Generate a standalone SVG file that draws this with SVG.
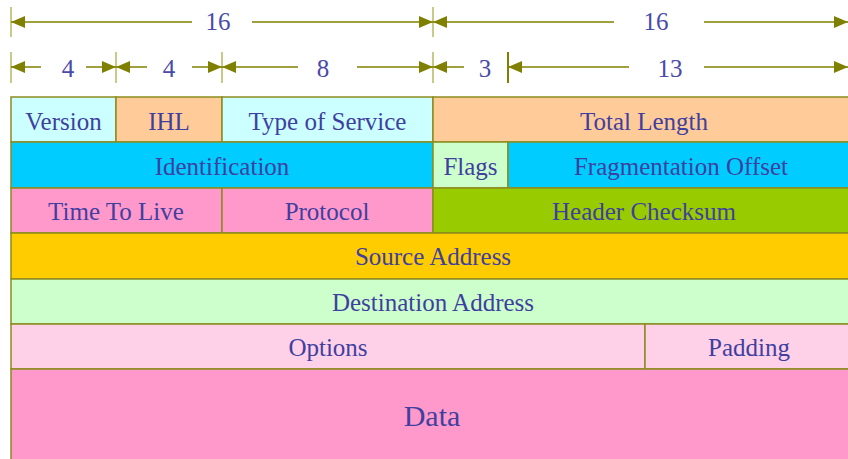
<svg xmlns="http://www.w3.org/2000/svg" width="848" height="459" viewBox="0 0 848 459">
<defs>
<style>
.c{stroke:#8c8c1e;stroke-width:1.5}
.t{font-family:"Liberation Serif",serif;font-size:25px;fill:#3f3f9f;text-anchor:middle}
.d{font-family:"Liberation Serif",serif;font-size:25px;fill:#4a4aa8;text-anchor:middle}
.ln{stroke:#808000;stroke-width:1.5;fill:none}
.tk{stroke:#b8b860;stroke-width:1.5}
</style>
<marker id="ae" viewBox="0 0 14 12" refX="14" refY="6" markerWidth="14" markerHeight="12" markerUnits="userSpaceOnUse" orient="auto">
<path d="M0,0 L14,6 L0,12 Z" fill="#808000"/>
</marker>
<marker id="as" viewBox="0 0 14 12" refX="0" refY="6" markerWidth="14" markerHeight="12" markerUnits="userSpaceOnUse" orient="auto">
<path d="M14,0 L0,6 L14,12 Z" fill="#808000"/>
</marker>
</defs>
<rect width="848" height="459" fill="#ffffff"/>

<g id="dimensions">
<line class="tk" x1="11" y1="7" x2="11" y2="37"/>
<line class="tk" x1="433" y1="7" x2="433" y2="37"/>
<line class="tk" x1="11" y1="52" x2="11" y2="83"/>
<line class="tk" x1="116" y1="52" x2="116" y2="83"/>
<line class="tk" x1="222" y1="52" x2="222" y2="83"/>
<line class="tk" x1="433" y1="52" x2="433" y2="83"/>
<line x1="508" y1="52" x2="508" y2="83" stroke="#808000" stroke-width="2"/>
</g>

<g id="connectors">
<line class="ln" x1="11" y1="22" x2="192" y2="22" marker-start="url(#as)"/>
<line class="ln" x1="252" y1="22" x2="433" y2="22" marker-end="url(#ae)"/>
<line class="ln" x1="433" y1="22" x2="614" y2="22" marker-start="url(#as)"/>
<line class="ln" x1="704" y1="22" x2="848" y2="22" marker-end="url(#ae)"/>
<line class="ln" x1="11" y1="67" x2="41" y2="67" marker-start="url(#as)"/>
<line class="ln" x1="86" y1="67" x2="116" y2="67" marker-end="url(#ae)"/>
<line class="ln" x1="116" y1="67" x2="147" y2="67" marker-start="url(#as)"/>
<line class="ln" x1="192" y1="67" x2="222" y2="67" marker-end="url(#ae)"/>
<line class="ln" x1="222" y1="67" x2="298" y2="67" marker-start="url(#as)"/>
<line class="ln" x1="357" y1="67" x2="433" y2="67" marker-end="url(#ae)"/>
<line class="ln" x1="433" y1="67" x2="464" y2="67" marker-start="url(#as)"/>
<line class="ln" x1="508" y1="67" x2="629" y2="67" marker-start="url(#as)"/>
<line class="ln" x1="704" y1="67" x2="848" y2="67" marker-end="url(#ae)"/>
</g>

<g id="dim-labels">
<text class="d" x="218" y="30">16</text>
<text class="d" x="656" y="30">16</text>
<text class="d" x="68" y="77">4</text>
<text class="d" x="169" y="77">4</text>
<text class="d" x="323" y="77">8</text>
<text class="d" x="485" y="77">3</text>
<text class="d" x="670" y="77">13</text>
</g>

<g id="version"><rect class="c" x="11" y="97" width="105" height="45" fill="#ccffff"/><text class="t" x="63.5" y="130">Version</text></g>
<g id="ihl"><rect class="c" x="116" y="97" width="106" height="45" fill="#ffcc99"/><text class="t" x="169" y="130">IHL</text></g>
<g id="tos"><rect class="c" x="222" y="97" width="211" height="45" fill="#ccffff"/><text class="t" x="327.5" y="130">Type of Service</text></g>
<g id="total-length"><rect class="c" x="433" y="97" width="418" height="45" fill="#ffcc99"/><text class="t" x="644" y="130">Total Length</text></g>

<g id="identification"><rect class="c" x="11" y="142" width="422" height="46" fill="#00ccff"/><text class="t" x="222" y="175">Identification</text></g>
<g id="flags"><rect class="c" x="433" y="142" width="75" height="46" fill="#ccffcc"/><text class="t" x="470.5" y="175">Flags</text></g>
<g id="frag-offset"><rect class="c" x="508" y="142" width="343" height="46" fill="#00ccff"/><text class="t" x="681" y="175">Fragmentation Offset</text></g>

<g id="ttl"><rect class="c" x="11" y="188" width="211" height="45" fill="#ff99cc"/><text class="t" x="116" y="220">Time To Live</text></g>
<g id="protocol"><rect class="c" x="222" y="188" width="211" height="45" fill="#ff99cc"/><text class="t" x="327" y="220">Protocol</text></g>
<g id="checksum"><rect class="c" x="433" y="188" width="418" height="45" fill="#99cc00"/><text class="t" x="644" y="220">Header Checksum</text></g>

<g id="source"><rect class="c" x="11" y="233" width="840" height="46" fill="#ffcc00"/><text class="t" x="433" y="265">Source Address</text></g>
<g id="destination"><rect class="c" x="11" y="279" width="840" height="45" fill="#ccffcc"/><text class="t" x="433" y="311">Destination Address</text></g>

<g id="options"><rect class="c" x="11" y="324" width="634" height="45" fill="#ffd1e8"/><text class="t" x="328" y="356">Options</text></g>
<g id="padding"><rect class="c" x="645" y="324" width="206" height="45" fill="#ffd1e8"/><text class="t" x="749" y="356">Padding</text></g>

<g id="data"><rect class="c" x="11" y="369" width="840" height="95" fill="#ff99cc"/><text class="t" x="432" y="426" style="font-size:30px">Data</text></g>
</svg>
